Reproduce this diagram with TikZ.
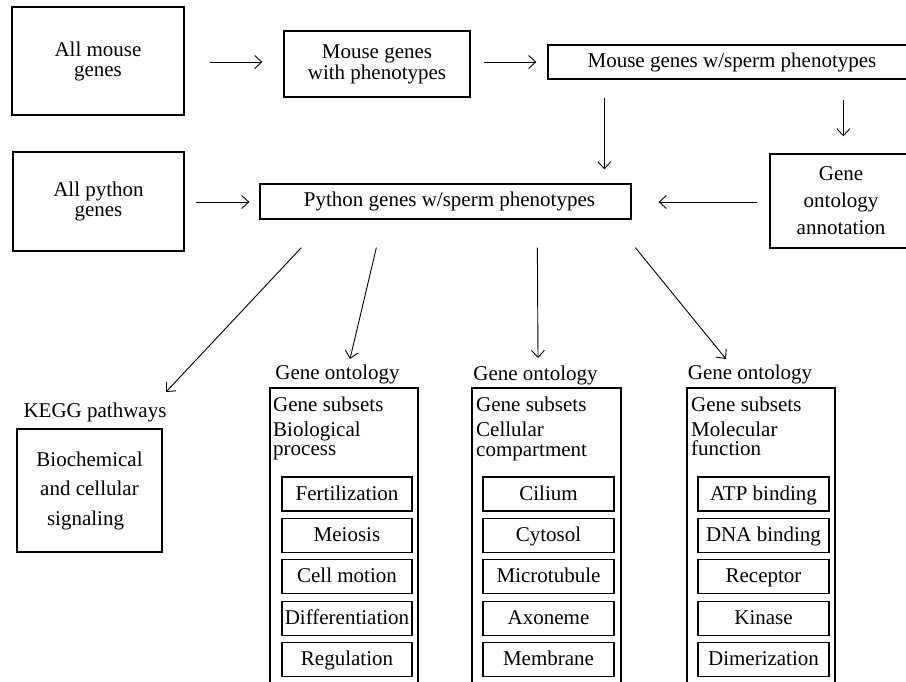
\documentclass[tikz,border=0pt]{standalone}
\usepackage{fontspec}
\setmainfont{Liberation Serif}
\usetikzlibrary{arrows.meta,calc}
\begin{document}
\begin{tikzpicture}[x=1pt,y=-1pt,
  txt/.style={inner sep=0pt,font=\fontsize{21}{20}\selectfont},
  box/.style={draw,line width=1.3pt,inner sep=0pt,align=center,font=\fontsize{21}{20}\selectfont},
  itembox/.style={box,minimum width=131pt,minimum height=34pt,text height=15pt,text depth=3pt},
  tallbox/.style={draw,line width=1.3pt,inner sep=0pt,minimum height=332pt},
  arr/.style={line width=0.9pt,-{Straight Barb[length=7pt,width=13pt,line width=0.9pt]}}]
\useasboundingbox (0,0) rectangle (906,682);
\clip (0,0) rectangle (906,682);

% top row
\node[box,minimum width=172pt,minimum height=108pt] (am) at (98,61) {All mouse\\genes};
\node[box,minimum width=186pt,minimum height=66pt,font=\fontsize{21}{21}\selectfont] (mp) at (377,64) {Mouse genes\\with phenotypes};
\node[box,minimum width=362pt,minimum height=34pt] (ms) at (729,62) {\hspace*{6pt}Mouse genes w/sperm phenotypes};

% second row
\node[box,minimum width=171pt,minimum height=99pt,font=\fontsize{21}{20}\selectfont] (ap) at (98.5,201.5) {All python\\genes};
\node[box,minimum width=371pt,minimum height=35pt] (py) at (445.5,201.5) {\hspace*{8pt}Python genes w/sperm phenotypes};
\node[box,minimum width=142pt,minimum height=94pt,font=\fontsize{21}{27}\selectfont] (goa) at (841,201) {Gene\\ontology\\annotation};

% top arrows
\draw[arr] ($(am.east)+(25,1)$) -- ($(mp.west)+(-21,-2)$);
\draw[arr] ($(mp.east)+(13,-2)$) -- ($(ms.west)+(-11,0)$);
\draw[arr] ($(ms.south west)+(57,18)$) -- ($(py.north west)+(345,-14)$);
\draw[arr] ($(ms.south west)+(296,20)$) -- ($(goa.north west)+(74,-17)$);
\draw[arr] ($(goa.west)+(-12,1)$) -- ($(py.east)+(27,0.5)$);
\draw[arr] ($(ap.east)+(11,0.5)$) -- ($(py.west)+(-10,0.5)$);

% KEGG
\node[txt,anchor=base] (keggT) at (95,417) {KEGG pathways};
\node[box,minimum width=145pt,minimum height=123pt,font=\fontsize{21}{29.5}\selectfont] (kegg) at (89.5,490.5) {Biochemical\\and cellular\\signaling\hspace*{8pt}};

% GO columns titles
\node[txt,anchor=base] (bioT) at (337.5,379) {Gene ontology};
\node[txt,anchor=base] (cellT) at (535.5,380) {Gene ontology};
\node[txt,anchor=base] (molT) at (750,379) {Gene ontology};

% tall boxes
\node[tallbox,minimum width=148pt] (bioB) at (344,554) {};
\node[tallbox,minimum width=149pt] (cellB) at (546.5,554) {};
\node[tallbox,minimum width=148pt] (molB) at (761,554) {};

% headers inside
\node[txt,anchor=base west] (bioH1) at (273,411) {Gene subsets};
\node[txt,anchor=base west] (bioH2) at (273,436) {Biological};
\node[txt,anchor=base west] (bioH3) at (273,455) {process};
\node[txt,anchor=base west] (cellH1) at (476,411) {Gene subsets};
\node[txt,anchor=base west] (cellH2) at (476,436) {Cellular};
\node[txt,anchor=base west] (cellH3) at (476,456) {compartment};
\node[txt,anchor=base west] (molH1) at (691,411) {Gene subsets};
\node[txt,anchor=base west] (molH2) at (691,436) {Molecular};
\node[txt,anchor=base west] (molH3) at (691,455) {function};

% item boxes
\foreach \t [count=\i from 0] in {Fertilization,Meiosis,Cell motion,Differentiation,Regulation}
  \node[itembox,minimum width=130pt] (bio\i) at (347,494+41.4*\i) {\t};
\foreach \t [count=\i from 0] in {Cilium,Cytosol,Microtubule,Axoneme,Membrane}
  \node[itembox] (cell\i) at (548.5,494+41.4*\i) {\t};
\foreach \t [count=\i from 0] in {ATP binding,DNA binding,Receptor,Kinase,Dimerization}
  \node[itembox] (mol\i) at (763.5,494+41.4*\i) {\t};

% lower arrows
\draw[arr] ($(py.south west)+(42,28)$) -- ($(keggT.base)+(71,-25)$);
\draw[arr] ($(py.south west)+(117,28)$) -- ($(bioT.base)+(12.5,-20)$);
\draw[arr] ($(py.south west)+(278,28)$) -- ($(cellT.base)+(2.5,-22)$);
\draw[arr] ($(py.south west)+(376,28)$) -- ($(molT.base)+(-24,-20)$);
\end{tikzpicture}
\end{document}
